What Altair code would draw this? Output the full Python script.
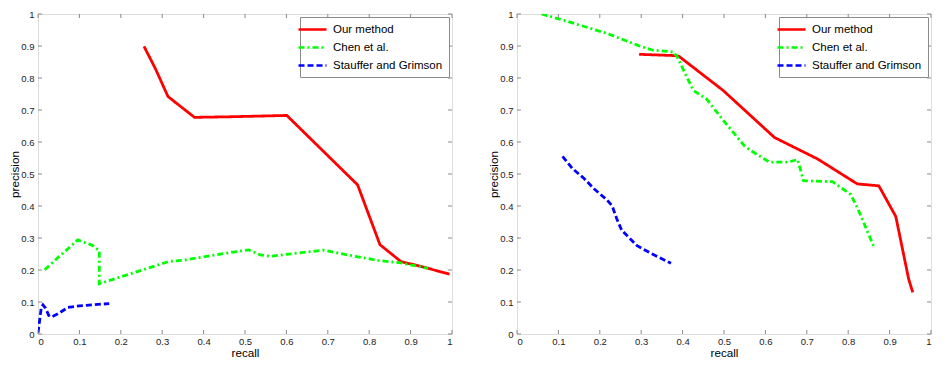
import altair as alt
import pandas as pd

series_names = ["Our method", "Chen et al.", "Stauffer and Grimson"]
series_colors = ["#ff0000", "#00ff00", "#0000ff"]
series_dashes = [[1, 0], [6, 3, 2, 3], [6, 3]]
tick_values = [0, 0.1, 0.2, 0.3, 0.4, 0.5, 0.6, 0.7, 0.8, 0.9, 1.0]

# Left panel
left_red_x = [0.256, 0.284, 0.314, 0.378, 0.47, 0.601, 0.772, 0.826, 0.877, 0.917, 0.994]
left_red_y = [0.899, 0.828, 0.742, 0.677, 0.679, 0.683, 0.466, 0.279, 0.226, 0.214, 0.187]
left_green_x = [0.016, 0.096, 0.132, 0.148, 0.148, 0.317, 0.349, 0.457, 0.509, 0.537, 0.561, 0.689, 0.765, 0.821, 0.877, 0.942]
left_green_y = [0.201, 0.294, 0.277, 0.26, 0.157, 0.227, 0.23, 0.253, 0.263, 0.247, 0.243, 0.262, 0.243, 0.23, 0.222, 0.205]
left_blue_x = [0.0, 0.004, 0.008, 0.012, 0.018, 0.026, 0.032, 0.048, 0.072, 0.1, 0.172]
left_blue_y = [0.004, 0.043, 0.083, 0.091, 0.081, 0.058, 0.053, 0.063, 0.083, 0.088, 0.095]

# Right panel
right_red_x = [0.295, 0.382, 0.391, 0.498, 0.622, 0.726, 0.822, 0.874, 0.915, 0.946, 0.956]
right_red_y = [0.874, 0.870, 0.868, 0.761, 0.614, 0.547, 0.469, 0.463, 0.367, 0.172, 0.13]
right_green_x = [0.059, 0.114, 0.218, 0.298, 0.326, 0.378, 0.386, 0.426, 0.458, 0.498, 0.55, 0.566, 0.61, 0.654, 0.678, 0.692, 0.762, 0.806, 0.822, 0.862]
right_green_y = [1.0, 0.98, 0.939, 0.899, 0.888, 0.881, 0.868, 0.761, 0.734, 0.668, 0.587, 0.572, 0.537, 0.537, 0.545, 0.479, 0.476, 0.436, 0.395, 0.273]
right_blue_x = [0.11, 0.134, 0.162, 0.186, 0.218, 0.23, 0.241, 0.253, 0.29, 0.325, 0.372]
right_blue_y = [0.555, 0.517, 0.486, 0.454, 0.418, 0.4, 0.36, 0.324, 0.276, 0.251, 0.221]

W, H = 414, 320
GRAY = "#8a8a8a"
FONT = "Liberation Sans"


def make_df(xs_list, ys_list):
    rows = []
    for name, xs, ys in zip(series_names, xs_list, ys_list):
        for i, (x, y) in enumerate(zip(xs, ys)):
            rows.append({"series": name, "recall": x, "precision": y, "i": i})
    return pd.DataFrame(rows)


ticks_df = pd.DataFrame({"t": tick_values})


def panel(df):
    xscale = alt.Scale(domain=[0, 1], nice=False)
    yscale = alt.Scale(domain=[0, 1], nice=False)
    xaxis = alt.Axis(values=tick_values, format=".1~f", title="recall",
                     tickSize=0, domain=False, grid=False,
                     labelFontSize=9.5, labelPadding=2, labelFont=FONT, labelColor="#222",
                     titleFontSize=11.7, titleFont=FONT, titleFontWeight="normal",
                     titleColor="#000", titlePadding=2)
    yaxis = alt.Axis(values=tick_values, format=".1~f", title="precision",
                     tickSize=0, domain=False, grid=False, minExtent=18, maxExtent=18,
                     labelFontSize=9.5, labelPadding=4, labelFont=FONT, labelColor="#222",
                     titleFontSize=11.7, titleFont=FONT, titleFontWeight="normal",
                     titleColor="#000", titlePadding=0)
    legend = alt.Legend(
        title=None, orient="top-right", offset=3,
        strokeColor=GRAY, fillColor="white", padding=6,
        labelFontSize=11.5, labelFont=FONT, labelColor="#000",
        symbolType="M-2.8,0H2.8", symbolSize=100, symbolStrokeWidth=2.7,
        labelOffset=14, rowPadding=6,
    )
    lines = alt.Chart(df).mark_line(strokeWidth=2.8, clip=True).encode(
        x=alt.X("recall:Q", scale=xscale, axis=xaxis),
        y=alt.Y("precision:Q", scale=yscale, axis=yaxis),
        color=alt.Color("series:N", scale=alt.Scale(domain=series_names, range=series_colors), legend=legend),
        strokeDash=alt.StrokeDash("series:N", scale=alt.Scale(domain=series_names, range=series_dashes), legend=legend),
        order=alt.Order("i:Q"),
        detail="series:N",
    )
    base = alt.Chart(ticks_df).mark_rule(color=GRAY, strokeWidth=1)
    xt_b = base.encode(x=alt.X("t:Q", scale=xscale, axis=xaxis), y=alt.value(H), y2=alt.value(H - 4))
    xt_t = base.encode(x=alt.X("t:Q", scale=xscale, axis=xaxis), y=alt.value(0), y2=alt.value(4))
    yt_l = base.encode(y=alt.Y("t:Q", scale=yscale, axis=yaxis), x=alt.value(0), x2=alt.value(4))
    yt_r = base.encode(y=alt.Y("t:Q", scale=yscale, axis=yaxis), x=alt.value(W - 4), x2=alt.value(W))
    return alt.layer(lines, xt_b, xt_t, yt_l, yt_r).properties(width=W, height=H)


left = panel(make_df([left_red_x, left_green_x, left_blue_x], [left_red_y, left_green_y, left_blue_y]))
right = panel(make_df([right_red_x, right_green_x, right_blue_x], [right_red_y, right_green_y, right_blue_y]))

chart = alt.hconcat(left, right, spacing=34).resolve_scale(
    color="independent", strokeDash="independent"
).resolve_legend(color="independent", strokeDash="independent").properties(
    padding={"left": 0, "top": 0, "right": 0, "bottom": 1}
).configure_view(stroke=GRAY, strokeWidth=1).configure(background="white")

chart.save("out.html", embed_options={"renderer": "svg", "actions": False})
